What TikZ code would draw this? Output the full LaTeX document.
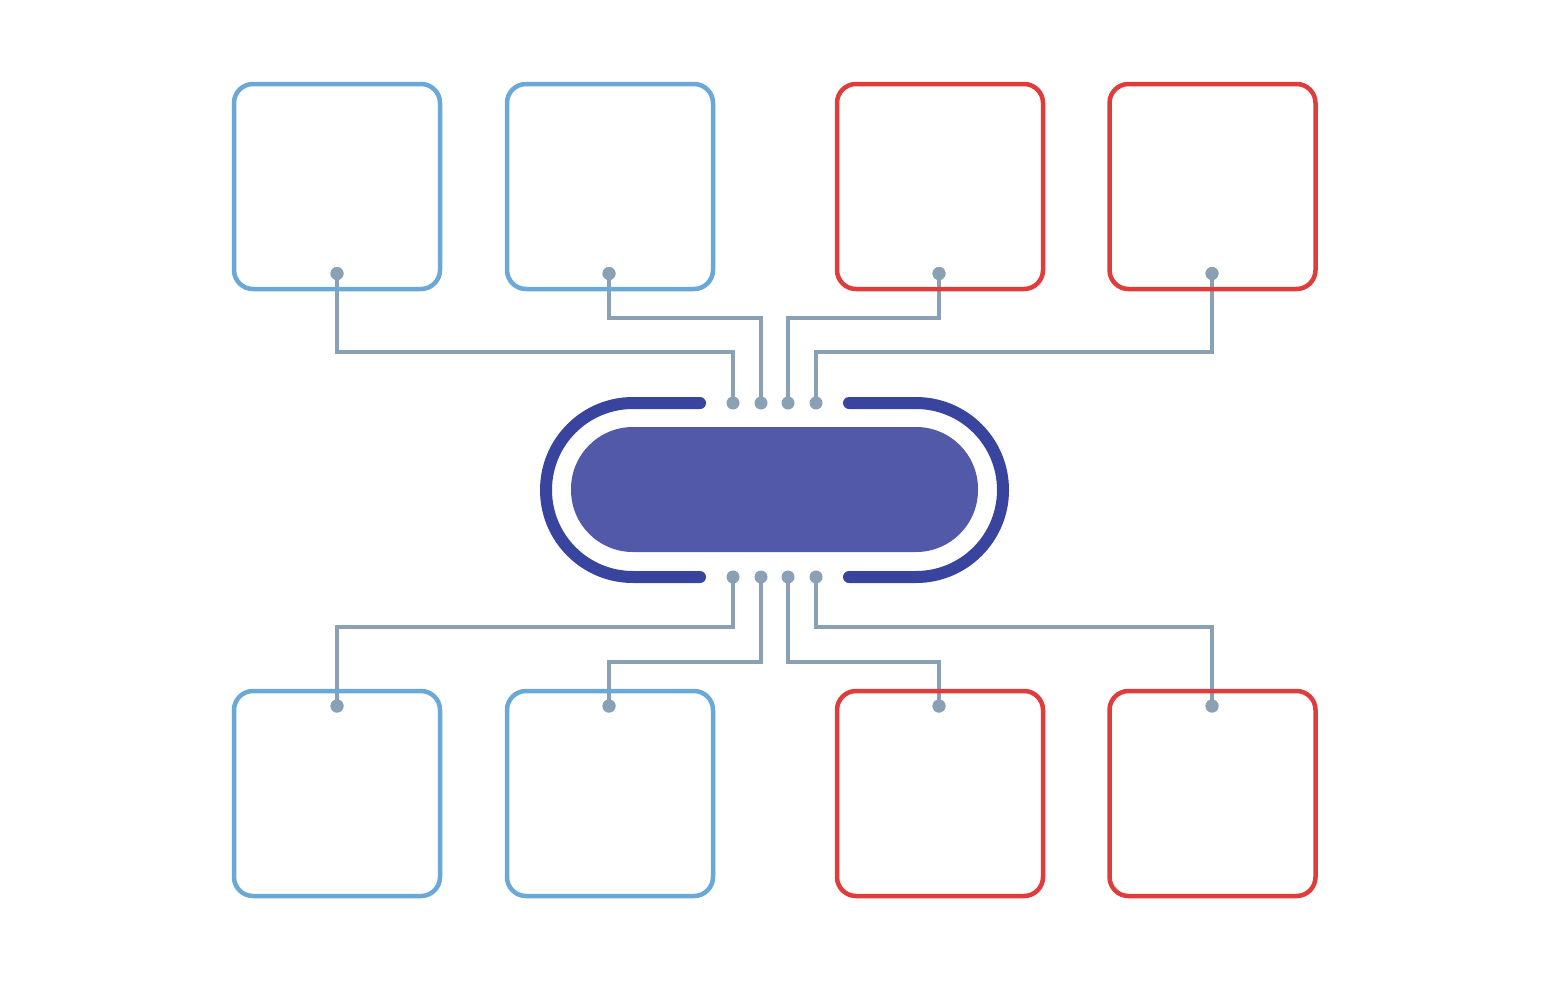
\documentclass[tikz,border=0pt]{standalone}
\definecolor{boxblue}{HTML}{6AA8D8}
\definecolor{boxred}{HTML}{E03C3C}
\definecolor{conn}{HTML}{8AA0B5}
\definecolor{ringcol}{HTML}{38449E}
\definecolor{hubfill}{HTML}{5159A8}
\begin{document}
\begin{tikzpicture}[x=1pt,y=-1pt,
 card/.style={draw, line width=4.5pt, rounded corners=19pt, minimum width=206pt, minimum height=205pt, inner sep=0pt},
 bluecard/.style={card, draw=boxblue},
 redcard/.style={card, draw=boxred},
 pin/.style={circle, fill=conn, inner sep=0pt, minimum size=13pt},
 wire/.style={draw=conn, line width=3.6pt, line join=miter},
 ringline/.style={draw=ringcol, line width=12pt, line cap=round}]
\useasboundingbox[fill=white] (0,0) rectangle (1568,980);

% hub pins
\node[pin] (p1) at (733,403) {};
\node[pin] (p2) at (761,403) {};
\node[pin] (p3) at (788,403) {};
\node[pin] (p4) at (816,403) {};
\node[pin] (q1) at (733,577) {};
\node[pin] (q2) at (761,577) {};
\node[pin] (q3) at (788,577) {};
\node[pin] (q4) at (816,577) {};

% box pins
\node[pin] (d1) at (337,273.5) {};
\node[pin] (d2) at (609,273.5) {};
\node[pin] (d3) at (939,273.5) {};
\node[pin] (d4) at (1212,273.5) {};
\node[pin] (e1) at (337,706) {};
\node[pin] (e2) at (609,706) {};
\node[pin] (e3) at (939,706) {};
\node[pin] (e4) at (1212,706) {};

% wires
\draw[wire] (d1.center) -- ++(0,78.5) -| (p1.center);
\draw[wire] (d2.center) -- ++(0,44.5) -| (p2.center);
\draw[wire] (d3.center) -- ++(0,44.5) -| (p3.center);
\draw[wire] (d4.center) -- ++(0,78.5) -| (p4.center);
\draw[wire] (q1.center) -- ++(0,50) -| (e1.center);
\draw[wire] (q2.center) -- ++(0,85) -| (e2.center);
\draw[wire] (q3.center) -- ++(0,85) -| (e3.center);
\draw[wire] (q4.center) -- ++(0,50) -| (e4.center);

% boxes
\node[bluecard] (b1) at (337,186.5) {};
\node[bluecard] (b2) at (610,186.5) {};
\node[redcard] (b3) at (940,186.5) {};
\node[redcard] (b4) at (1212.5,186.5) {};
\node[bluecard] (c1) at (337,793.5) {};
\node[bluecard] (c2) at (610,793.5) {};
\node[redcard] (c3) at (940,793.5) {};
\node[redcard] (c4) at (1212.5,793.5) {};

% redraw pins on top
\foreach \n in {d1,d2,d3,d4,e1,e2,e3,e4}{
  \fill[conn] (\n.center) circle[radius=6.5pt];
}

% hub
\draw[ringline] (700,403) -- (633,403) arc[start angle=-90, end angle=-270, radius=87] -- (700,577);
\draw[ringline] (849,403) -- (916,403) arc[start angle=-90, end angle=90, radius=87] -- (849,577);
\node[fill=hubfill, rounded corners=62pt, minimum width=407pt, minimum height=125pt, inner sep=0pt] (hub) at (774.5,489.5) {};
\end{tikzpicture}
\end{document}
